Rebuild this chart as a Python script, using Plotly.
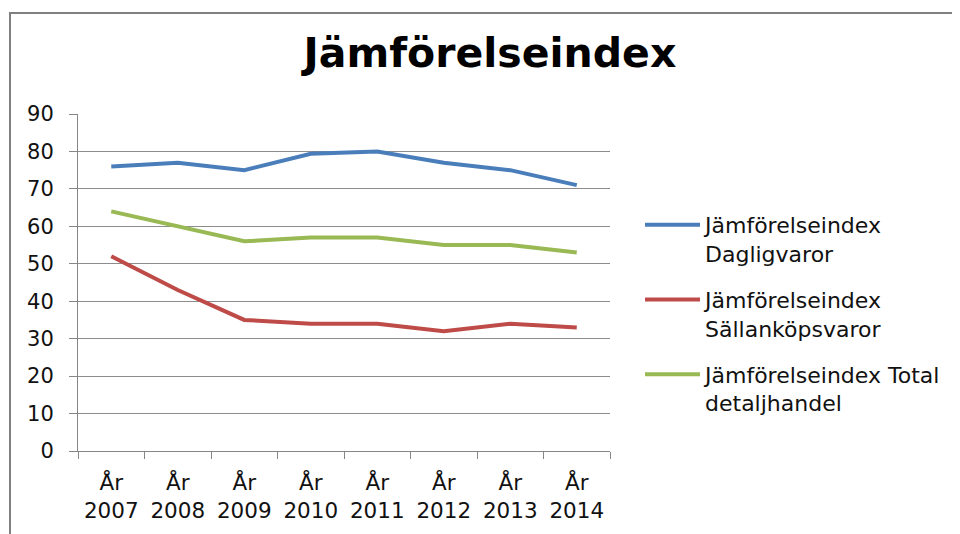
import plotly.graph_objects as go

categories = ["År<br>2007", "År<br>2008", "År<br>2009", "År<br>2010",
              "År<br>2011", "År<br>2012", "År<br>2013", "År<br>2014"]
dagligvaror = [76, 77, 75, 79.4, 80, 77, 75, 71]
sallankop = [52, 43, 35, 34, 34, 32, 34, 33]
total = [64, 60, 56, 57, 57, 55, 55, 53]

series_names = ["Jämförelseindex<br>Dagligvaror",
                "Jämförelseindex<br>Sällanköpsvaror",
                "Jämförelseindex Total<br>detaljhandel"]
series_values = [dagligvaror, sallankop, total]
series_colors = ["#4A7EBB", "#BE4B48", "#98B954"]

fig = go.Figure()
for i, (name, vals, col) in enumerate(zip(series_names, series_values, series_colors)):
    fig.add_trace(go.Scatter(
        x=categories, y=vals, mode="lines", name=name,
        line=dict(color=col, width=4), legendgroup=f"g{i}",
    ))

# page body has an 8px margin; work in figure coordinates = screen - 8
OFF = 8
W, H = 960 - OFF, 534 - OFF
L, R, T, B = 78 - OFF, W - (610 - OFF), 114 - OFF, H - (451 - OFF)
pw, ph = W - L - R, H - T - B

def sx(px):  # screen px -> paper x
    return (px - OFF - L) / pw

def sy(py):  # screen px -> paper y
    return (H - B - (py - OFF)) / ph

fig.update_layout(
    width=W, height=H,
    margin=dict(l=L, r=R, t=T, b=B),
    paper_bgcolor="white", plot_bgcolor="white",
    font=dict(family="DejaVu Sans", size=21, color="#111111"),
    title=dict(text="<b>Jämförelseindex</b>", x=(490 - OFF) / W, xanchor="center",
               y=(H - (67 - OFF)) / H, yanchor="bottom", yref="container",
               font=dict(family="DejaVu Sans", size=41, color="#000000")),
    showlegend=True,
    legend=dict(x=sx(640), xanchor="left",
                y=sy(204), yanchor="top",
                font=dict(family="DejaVu Sans", size=22, color="#111111"),
                valign="top", traceorder="grouped", tracegroupgap=14.5,
                itemwidth=55, bgcolor="rgba(0,0,0,0)"),
    xaxis=dict(type="category", range=[-0.5, 7.5], tickson="boundaries",
               ticks="outside", ticklen=7, tickcolor="#868686",
               showline=True, linecolor="#868686", linewidth=1,
               showgrid=False, zeroline=False, ticklabelstandoff=12,
               tickfont=dict(family="DejaVu Sans", size=21.5, color="#111111")),
    yaxis=dict(range=[0, 90], dtick=10, tick0=0,
               ticks="outside", ticklen=8, tickcolor="#868686",
               showline=True, linecolor="#868686", linewidth=1,
               showgrid=True, gridcolor="#8C8C8C", gridwidth=1,
               zeroline=False, ticklabelstandoff=11,
               tickfont=dict(family="DejaVu Sans", size=21, color="#111111")),
    shapes=[dict(type="rect", xref="paper", yref="paper",
                 x0=sx(10), x1=sx(1200),
                 y0=sy(800), y1=sy(13),
                 line=dict(color="#808080", width=2), fillcolor="rgba(0,0,0,0)",
                 layer="below")],
)

fig.write_html("out.html")
